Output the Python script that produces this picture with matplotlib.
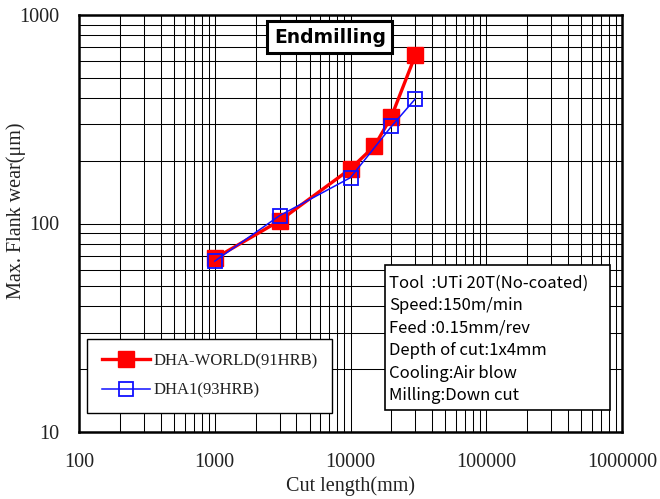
import matplotlib
matplotlib.use("Agg")
import matplotlib.pyplot as plt
import matplotlib.patches as patches
from matplotlib.ticker import LogLocator, NullFormatter, FixedFormatter, FixedLocator

# data
world_x = [1000, 3000, 10000, 15000, 20000, 30000]
world_y = [68, 103, 183, 235, 325, 640]
dha1_x = [1000, 3000, 10000, 20000, 30000]
dha1_y = [66, 109, 166, 292, 396]

x_ticks = [100, 1000, 10000, 100000, 1000000]
x_labels = ["100", "1000", "10000", "100000", "1000000"]
y_ticks = [10, 100, 1000]
y_labels = ["10", "100", "1000"]

info_lines = [
    "Tool  :UTi 20T(No-coated)",
    "Speed:150m/min",
    "Feed :0.15mm/rev",
    "Depth of cut:1x4mm",
    "Cooling:Air blow",
    "Milling:Down cut",
]

serif = ["Liberation Serif", "Noto Sans CJK JP"]
gothic = ["Noto Sans CJK JP", "DejaVu Sans"]
fs = 14.5

fig = plt.figure(figsize=(6.6, 4.99), dpi=100)
ax = fig.add_axes([79 / 660, 1 - 432 / 499, 543 / 660, 417 / 499])
ax.set_xscale("log")
ax.set_yscale("log")
ax.set_xlim(100, 1000000)
ax.set_ylim(10, 1000)

ax.grid(True, which="both", color="black", linewidth=0.75)
ax.set_axisbelow(True)

ax.plot(world_x, world_y, color="#ff0000", linewidth=2.4, marker="s",
        markersize=11, markerfacecolor="#ff0000", markeredgecolor="#ff0000",
        label="DHA-WORLD(91HRB)", zorder=3)
ax.plot(dha1_x, dha1_y, color="#1010ff", linewidth=1.1, marker="s",
        markersize=10.5, markerfacecolor="none", markeredgecolor="#1010ff",
        markeredgewidth=1.3, label="DHA1(93HRB)", zorder=4)

ax.xaxis.set_major_locator(FixedLocator(x_ticks))
ax.xaxis.set_major_formatter(FixedFormatter(x_labels))
ax.yaxis.set_major_locator(FixedLocator(y_ticks))
ax.yaxis.set_major_formatter(FixedFormatter(y_labels))
ax.xaxis.set_minor_locator(LogLocator(base=10, subs=range(2, 10)))
ax.yaxis.set_minor_locator(LogLocator(base=10, subs=range(2, 10)))
ax.xaxis.set_minor_formatter(NullFormatter())
ax.yaxis.set_minor_formatter(NullFormatter())
ax.tick_params(which="both", length=0)
ax.tick_params(axis="x", pad=15)
ax.tick_params(axis="y", pad=14)
for lab in ax.get_xticklabels() + ax.get_yticklabels():
    lab.set_family(serif)
    lab.set_fontsize(fs)
    lab.set_color("#222222")

for s in ax.spines.values():
    s.set_linewidth(1.8)
    s.set_color("black")

ax.set_xlabel("Cut length(mm)", family=serif, fontsize=fs, color="#222222", labelpad=3)
ax.set_ylabel("Max. Flank wear(μm)", family=serif, fontsize=fs, color="#222222")
ax.yaxis.set_label_coords(-0.098, 0.53)

leg = ax.legend(loc="lower left", bbox_to_anchor=(0.0, 0.026), prop={"family": serif, "size": 12},
                frameon=True, fancybox=False, edgecolor="black", framealpha=1,
                handlelength=2.9, borderpad=0.85, labelspacing=0.8, handletextpad=0.2)
leg.get_frame().set_linewidth(1.0)
for t in leg.get_texts():
    t.set_color("#222222")

ax.text(0.462, 0.947, "Endmilling", transform=ax.transAxes, ha="center", va="center",
        family=["DejaVu Sans"], fontsize=13.5, fontweight="bold",
        bbox=dict(boxstyle="square,pad=0.35", facecolor="white", edgecolor="black", linewidth=2.2),
        zorder=6)

ax.add_patch(patches.Rectangle((0.564, 0.053), 0.414, 0.347, transform=ax.transAxes,
                               facecolor="white", edgecolor="black", linewidth=1.2, zorder=6))
for i, line in enumerate(info_lines):
    y = 1 - (283 + 22.5 * i - 15) / 417
    ax.text(0.571, y, line, transform=ax.transAxes, ha="left", va="center",
            family=gothic, fontsize=12, color="black", zorder=7)

fig.savefig("out.png", dpi=100)
